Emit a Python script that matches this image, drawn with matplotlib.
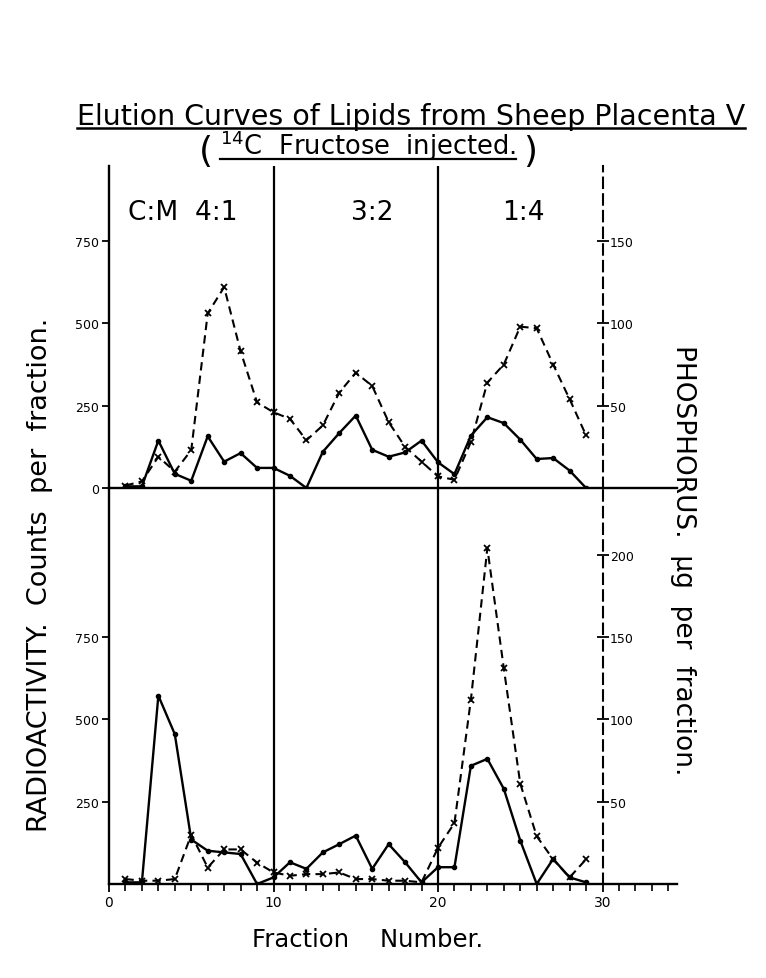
import matplotlib
matplotlib.use('Agg')
import matplotlib.pyplot as plt
from matplotlib.lines import Line2D
from matplotlib.ticker import MultipleLocator

# ---------------- data ----------------
fractions = list(range(1, 30))
# upper panel
top_counts = [5, 5, 144, 43, 22, 157, 80, 106, 61, 61, 37, 0, 110, 167, 220,
              116, 95, 108, 144, 78, 42, 159, 215, 197, 147, 88, 91, 53, 0]
top_phosphorus = [1.5, 4, 19, 10, 23, 106, 122, 83, 52, 46, 42, 29, 38, 58, 70,
                  62, 40, 25, 16, 7, 5, 28, 64, 75, 98, 97, 75, 54, 32]
# lower panel
bot_counts = [5, 5, 572, 455, 135, 101, 96, 91, 0, 20, 66, 46, 96, 121, 147,
              46, 121, 66, 5, 51, 51, 359, 380, 289, 132, 0, 76, 20, 5]
bot_phosphorus = [3, 2, 2, 3, 30, 10, 21, 21, 13, 7, 5, 6, 6, 7, 3,
                  3, 2, 2, 1, 22, 37, 112, 204, 131, 61, 29, 15, 4, 15]

solvent_labels = ['C:M  4:1', '3:2', '1:4']
solvent_label_x = [4.5, 16.0, 25.2]
solvent_bounds = [10, 20]
phos_bound = 30

count_ticks = [0, 250, 500, 750]
top_phos_ticks = [50, 100, 150]
bot_phos_ticks = [50, 100, 150, 200]
x_major = [0, 10, 20, 30]

FONT = 'DejaVu Sans'
plt.rcParams['font.family'] = [FONT]

fig = plt.figure(figsize=(7.66, 9.79), dpi=100)
px_per_frac = 16.45
L = 109 / 766
W = 34.5 * px_per_frac / 766
ax_top = fig.add_axes([L, 490 / 979, W, 322 / 979])
ax_bot = fig.add_axes([L, 94 / 979, W, 396 / 979])
px_per_count = 0.3293
ylims = [322 / px_per_count, 396 / px_per_count]

dash_data = (0, (4, 2.5))
dash_axis = (0, (5, 3))

for i, (ax, counts, phos, pticks) in enumerate([
        (ax_top, top_counts, top_phosphorus, top_phos_ticks),
        (ax_bot, bot_counts, bot_phosphorus, bot_phos_ticks)]):
    ax.set_xlim(0, 34.5)
    ax.set_ylim(0, ylims[i])
    for s in ['top', 'right']:
        ax.spines[s].set_visible(False)
    ax.spines['left'].set_linewidth(1.7)
    ax.spines['bottom'].set_linewidth(1.7)
    ax.patch.set_alpha(0)
    for b in solvent_bounds:
        ax.axvline(b, color='k', lw=1.6)
    ax.plot(fractions, counts, color='k', lw=1.7, marker='o', ms=3)
    tw = ax.twinx()
    tw.set_ylim(0, ylims[i] / 5)
    for s in ['top', 'left', 'bottom']:
        tw.spines[s].set_visible(False)
    tw.spines['right'].set_position(('data', phos_bound))
    tw.spines['right'].set_linestyle(dash_axis)
    tw.spines['right'].set_linewidth(1.5)
    tw.plot(fractions, phos, color='k', lw=1.5, ls=dash_data,
            marker='x', ms=4.5, mew=1.3)
    tw.set_yticks(pticks)
    tw.tick_params(axis='y', direction='inout', length=9, width=1.3,
                   labelsize=9, pad=1)
    if i == 0:
        ax.set_yticks(count_ticks)
        ax.tick_params(axis='x', bottom=False, labelbottom=False)
    else:
        ax.set_yticks(count_ticks[1:])
        ax.set_xticks(x_major)
        ax.xaxis.set_minor_locator(MultipleLocator(1))
        ax.tick_params(axis='x', which='major', direction='out', length=6,
                       width=1.3, labelsize=10, pad=2)
        ax.tick_params(axis='x', which='minor', direction='out', length=5,
                       width=1.2)
    ax.tick_params(axis='y', direction='out', length=5, width=1.3,
                   labelsize=9, pad=2)

for lab, xl in zip(solvent_labels, solvent_label_x):
    ax_top.text(xl, 838, lab, ha='center', va='center', fontsize=19)

fig.text(40 / 766, 1 - 575 / 979, 'RADIOACTIVITY.  Counts  per  fraction.',
         rotation=90, ha='center', va='center', fontsize=19.5)
fig.text(683 / 766, 1 - 560 / 979, 'PHOSPHORUS.  µg  per  fraction.',
         rotation=-90, ha='center', va='center', fontsize=19)
fig.text(368 / 766, 1 - 940 / 979, 'Fraction    Number.', ha='center',
         va='center', fontsize=17.5)

t1 = fig.text(411 / 766, 1 - 125 / 979,
              'Elution Curves of Lipids from Sheep Placenta V',
              ha='center', va='baseline', fontsize=20.5)
t2 = fig.text(368 / 766, 1 - 155 / 979, r'$^{14}$C  Fructose  injected.',
              ha='center', va='baseline', fontsize=18.5)

fig.canvas.draw()
r = fig.canvas.get_renderer()
b1 = t1.get_window_extent(r)
b2 = t2.get_window_extent(r)
H = fig.bbox.height
Wd = fig.bbox.width
y1 = (H * (1 - 125 / 979) - 4) / H
fig.add_artist(Line2D([b1.x0 / Wd, b1.x1 / Wd], [y1, y1], color='k', lw=1.8,
                      transform=fig.transFigure))
y2 = (H * (1 - 155 / 979) - 5) / H
fig.add_artist(Line2D([b2.x0 / Wd, b2.x1 / Wd], [y2, y2], color='k', lw=1.6,
                      transform=fig.transFigure))
fig.text((b2.x0 - 14) / Wd, 1 - 152 / 979, '(', ha='center', va='center',
         fontsize=26)
fig.text((b2.x1 + 14) / Wd, 1 - 152 / 979, ')', ha='center', va='center',
         fontsize=26)

fig.savefig('out.png', dpi=100, facecolor='white')
